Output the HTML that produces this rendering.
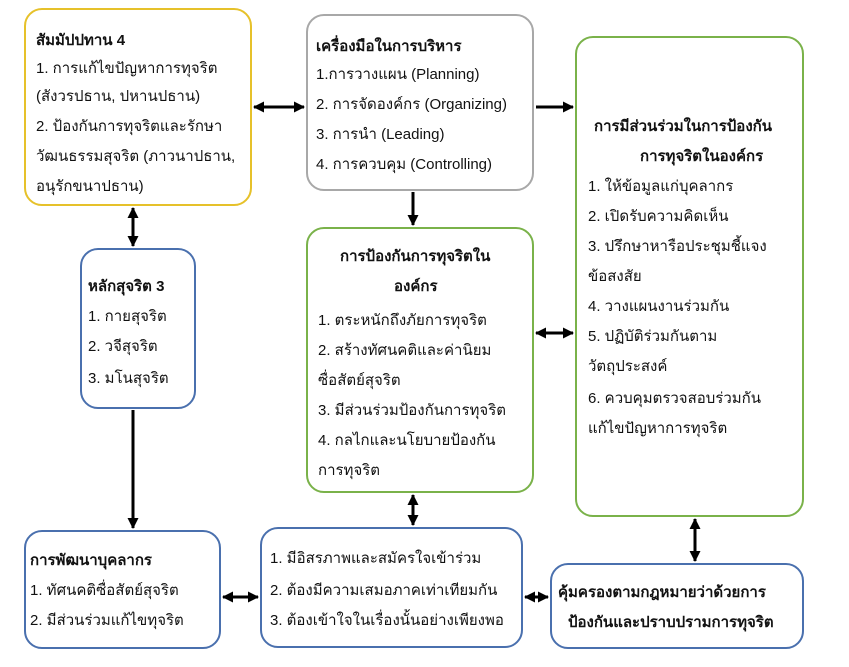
<!DOCTYPE html>
<html><head><meta charset="utf-8"><style>
body{margin:0;width:849px;height:667px;background:#fff;position:relative;font-family:"Liberation Sans","DejaVu Sans",sans-serif;font-size:15px;color:#111;overflow:hidden}
.b{position:absolute;border:2.5px solid;border-radius:18px;box-sizing:border-box;background:#fff}
.t{position:absolute;white-space:nowrap}
.h{font-weight:bold}
svg{position:absolute;left:0;top:0}
</style></head><body>
<div class="b" style="left:24px;top:8px;width:228px;height:198px;border-color:#e6c12a"></div>
<div class="b" style="left:306px;top:14px;width:228px;height:177px;border-color:#a8a8a8"></div>
<div class="b" style="left:575px;top:36px;width:229px;height:481px;border-color:#7ab24a"></div>
<div class="b" style="left:80px;top:248px;width:116px;height:161px;border-color:#4a70ae"></div>
<div class="b" style="left:306px;top:227px;width:228px;height:266px;border-color:#7ab24a"></div>
<div class="b" style="left:24px;top:530px;width:197px;height:119px;border-color:#4a70ae"></div>
<div class="b" style="left:260px;top:527px;width:263px;height:121px;border-color:#4a70ae"></div>
<div class="b" style="left:550px;top:563px;width:254px;height:86px;border-color:#4a70ae"></div>

<div class="t h" style="left:36px;top:28px">สัมมัปปทาน 4</div>
<div class="t" style="left:36px;top:56px">1. การแก้ไขปัญหาการทุจริต</div>
<div class="t" style="left:36px;top:84px">(สังวรปธาน, ปหานปธาน)</div>
<div class="t" style="left:36px;top:114px">2. ป้องกันการทุจริตและรักษา</div>
<div class="t" style="left:36px;top:144px">วัฒนธรรมสุจริต (ภาวนาปธาน,</div>
<div class="t" style="left:36px;top:174px">อนุรักขนาปธาน)</div>

<div class="t h" style="left:316px;top:34px">เครื่องมือในการบริหาร</div>
<div class="t" style="left:316px;top:62px">1.การวางแผน (Planning)</div>
<div class="t" style="left:316px;top:92px">2. การจัดองค์กร (Organizing)</div>
<div class="t" style="left:316px;top:122px">3. การนำ (Leading)</div>
<div class="t" style="left:316px;top:152px">4. การควบคุม (Controlling)</div>

<div class="t h" style="left:594px;top:114px">การมีส่วนร่วมในการป้องกัน</div>
<div class="t h" style="left:640px;top:144px">การทุจริตในองค์กร</div>
<div class="t" style="left:588px;top:174px">1. ให้ข้อมูลแก่บุคลากร</div>
<div class="t" style="left:588px;top:204px">2. เปิดรับความคิดเห็น</div>
<div class="t" style="left:588px;top:234px">3. ปรึกษาหารือประชุมชี้แจง</div>
<div class="t" style="left:588px;top:264px">ข้อสงสัย</div>
<div class="t" style="left:588px;top:294px">4. วางแผนงานร่วมกัน</div>
<div class="t" style="left:588px;top:324px">5. ปฏิบัติร่วมกันตาม</div>
<div class="t" style="left:588px;top:354px">วัตถุประสงค์</div>
<div class="t" style="left:588px;top:386px">6. ควบคุมตรวจสอบร่วมกัน</div>
<div class="t" style="left:588px;top:416px">แก้ไขปัญหาการทุจริต</div>

<div class="t h" style="left:88px;top:274px">หลักสุจริต 3</div>
<div class="t" style="left:88px;top:304px">1. กายสุจริต</div>
<div class="t" style="left:88px;top:334px">2. วจีสุจริต</div>
<div class="t" style="left:88px;top:366px">3. มโนสุจริต</div>

<div class="t h" style="left:340px;top:244px">การป้องกันการทุจริตใน</div>
<div class="t h" style="left:394px;top:274px">องค์กร</div>
<div class="t" style="left:318px;top:308px">1. ตระหนักถึงภัยการทุจริต</div>
<div class="t" style="left:318px;top:338px">2. สร้างทัศนคติและค่านิยม</div>
<div class="t" style="left:318px;top:368px">ซื่อสัตย์สุจริต</div>
<div class="t" style="left:318px;top:398px">3. มีส่วนร่วมป้องกันการทุจริต</div>
<div class="t" style="left:318px;top:428px">4. กลไกและนโยบายป้องกัน</div>
<div class="t" style="left:318px;top:458px">การทุจริต</div>

<div class="t h" style="left:30px;top:548px">การพัฒนาบุคลากร</div>
<div class="t" style="left:30px;top:578px">1. ทัศนคติซื่อสัตย์สุจริต</div>
<div class="t" style="left:30px;top:608px">2. มีส่วนร่วมแก้ไขทุจริต</div>

<div class="t" style="left:270px;top:546px">1. มีอิสรภาพและสมัครใจเข้าร่วม</div>
<div class="t" style="left:270px;top:578px">2. ต้องมีความเสมอภาคเท่าเทียมกัน</div>
<div class="t" style="left:270px;top:608px">3. ต้องเข้าใจในเรื่องนั้นอย่างเพียงพอ</div>

<div class="t h" style="left:558px;top:580px">คุ้มครองตามกฎหมายว่าด้วยการ</div>
<div class="t h" style="left:568px;top:610px">ป้องกันและปราบปรามการทุจริต</div>

<svg width="849" height="667">
<defs><marker id="a" markerWidth="11" markerHeight="11" refX="10" refY="5.5" orient="auto-start-reverse" markerUnits="userSpaceOnUse"><path d="M0,0 L11,5.5 L0,11 Z" fill="#000"/></marker></defs>
<g stroke="#000" stroke-width="3" fill="none">
<line x1="254" y1="107" x2="304" y2="107" marker-start="url(#a)" marker-end="url(#a)"/>
<line x1="413" y1="192" x2="413" y2="225" marker-end="url(#a)"/>
<line x1="536" y1="107" x2="573" y2="107" marker-end="url(#a)"/>
<line x1="133" y1="208" x2="133" y2="246" marker-start="url(#a)" marker-end="url(#a)"/>
<line x1="133" y1="410" x2="133" y2="528" marker-end="url(#a)"/>
<line x1="536" y1="333" x2="573" y2="333" marker-start="url(#a)" marker-end="url(#a)"/>
<line x1="413" y1="495" x2="413" y2="525" marker-start="url(#a)" marker-end="url(#a)"/>
<line x1="223" y1="597" x2="258" y2="597" marker-start="url(#a)" marker-end="url(#a)"/>
<line x1="525" y1="597" x2="548" y2="597" marker-start="url(#a)" marker-end="url(#a)"/>
<line x1="695" y1="519" x2="695" y2="561" marker-start="url(#a)" marker-end="url(#a)"/>
</g></svg>
</body></html>
